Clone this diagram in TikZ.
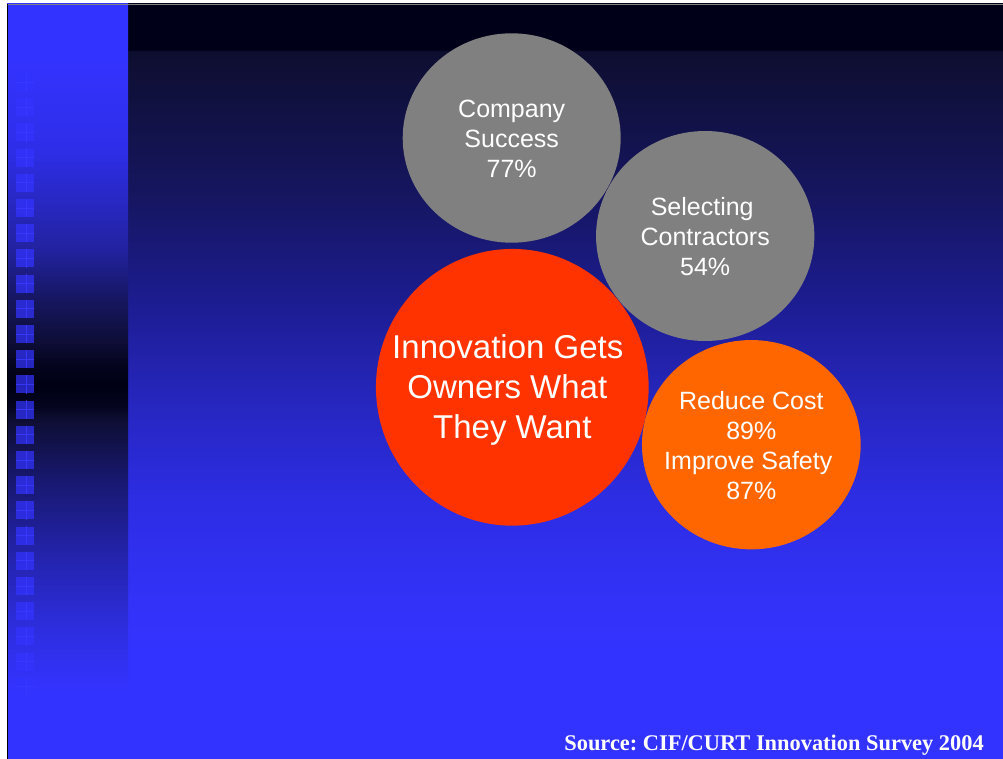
\documentclass[tikz,border=0pt]{standalone}
\usepackage{fontspec}
\setmainfont{Liberation Sans}
\newfontfamily\srcserif{Liberation Serif}
\usetikzlibrary{shapes.geometric}
\frenchspacing

\definecolor{bubblegray}{RGB}{128,128,128}
\definecolor{bubblered}{RGB}{255,51,0}
\definecolor{bubbleorange}{RGB}{255,102,0}
\definecolor{slideblue}{RGB}{51,51,255}
\definecolor{crossblue}{RGB}{58,58,255}

\newcommand{\tailpad}[1]{\rule{#1}{0pt}}

\pgfdeclareverticalshading{mainbg}{100bp}{
 rgb(0bp)=(0.2,0.2,1);
 rgb(25bp)=(0.2,0.2,1);
 rgb(32.22bp)=(0.2,0.2,1);
 rgb(35.53bp)=(0.196,0.196,0.973);
 rgb(42.15bp)=(0.176,0.176,0.894);
 rgb(48.77bp)=(0.149,0.149,0.745);
 rgb(55.40bp)=(0.11,0.11,0.565);
 rgb(62.02bp)=(0.086,0.086,0.384);
 rgb(71.89bp)=(0.055,0.055,0.188);
 rgb(71.95bp)=(0,0,0.094);
 rgb(75bp)=(0,0,0.094);
 rgb(100bp)=(0,0,0.094)}

\pgfdeclareverticalshading{stripbg}{100bp}{
 rgb(0bp)=(0.2,0.2,1);
 rgb(29.57bp)=(0.2,0.2,1);
 rgb(33.54bp)=(0.18,0.18,0.878);
 rgb(38.18bp)=(0.141,0.141,0.69);
 rgb(43.48bp)=(0.094,0.094,0.439);
 rgb(47.45bp)=(0.055,0.055,0.204);
 rgb(48.44bp)=(0.016,0.016,0.118);
 rgb(49.77bp)=(0,0,0.078);
 rgb(51.09bp)=(0.016,0.016,0.118);
 rgb(52.75bp)=(0.055,0.055,0.22);
 rgb(55.40bp)=(0.086,0.086,0.376);
 rgb(58.71bp)=(0.133,0.133,0.627);
 rgb(65.33bp)=(0.18,0.18,0.91);
 rgb(71.29bp)=(0.2,0.2,1);
 rgb(100bp)=(0.2,0.2,1)}

\tikzset{
  bubble/.style={ellipse, inner sep=0pt, draw=none},
  graybub/.style={bubble, fill=bubblegray},
  redbub/.style={bubble, fill=bubblered},
  orangebub/.style={bubble, fill=bubbleorange},
  bubtext/.style={text=white, align=center, inner sep=0pt, font=\fontsize{25}{30}\selectfont},
  bigtext/.style={text=white, align=center, inner sep=0pt, font=\fontsize{33}{40}\selectfont},
  sqbox/.style={rectangle, minimum size=18pt, inner sep=0pt, draw=none, fill=slideblue, fill opacity=0.72},
  sqcross/.style={draw=crossblue, draw opacity=0.85, line width=0.8pt},
  srctext/.style={text=white, inner sep=0pt, anchor=base east, font=\srcserif\bfseries\fontsize{22.4}{26}\selectfont}
}

\begin{document}
\begin{tikzpicture}[x=1pt, y=-1pt]
\useasboundingbox (0,0) rectangle (1003,759);
\fill[white] (0,0) rectangle (1003,759);

% backgrounds
\shade[shading=mainbg] (128,4) rectangle (1003,759);
\shade[shading=stripbg] (7,4) rectangle (128,759);

% borders
\draw[gray, line width=1pt] (7,4.5) -- (1003,4.5);
\draw[black, line width=1pt] (7.5,4) -- (7.5,759);

% squares in left strip
\foreach \i in {0,...,24} {
  \pgfmathsetmacro\yy{73+25.2*\i+9}
  \node[sqbox] (sq\i) at (25,\yy) {};
  \draw[sqcross] ([xshift=1pt]sq\i.north) -- ([xshift=1pt]sq\i.south);
  \draw[sqcross] (sq\i.west) -- (sq\i.east);
}

% bubbles
\node[graybub, minimum width=218pt, minimum height=209.4pt] (cs) at (511.7,138) {};
\node[graybub, minimum width=218.3pt, minimum height=210pt] (sc) at (705.2,236) {};
\node[redbub, minimum width=272.7pt, minimum height=276.7pt] (inn) at (512.3,387.3) {};
\node[orangebub, minimum width=218.7pt, minimum height=209.3pt] (rc) at (751.3,444.7) {};

% texts
\node[bubtext] (cst) at ([yshift=-0.4pt]cs.center) {Company\\Success\\77\%};
\node[bubtext] (sct) at ([yshift=-0.8pt]sc.center) {Selecting\tailpad{6pt}\\Contractors\\54\%};
\node[bigtext] (innt) at ([yshift=-3.1pt]inn.center) {Innovation Gets\tailpad{9pt}\\Owners What\tailpad{10pt}\\They Want};
\node[bubtext] (rct) at ([yshift=-0.7pt]rc.center) {Reduce Cost\\89\%\\Improve Safety\tailpad{6pt}\\87\%};

\node[srctext] (src) at (984,750.7) {Source: CIF/CURT Innovation Survey 2004};
\end{tikzpicture}
\end{document}
